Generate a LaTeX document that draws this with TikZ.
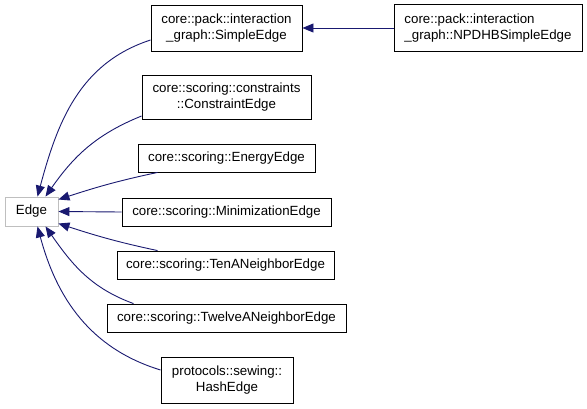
\documentclass[tikz,border=0pt]{standalone}
\usepackage{fontspec}
\setmainfont{Liberation Sans}
\usetikzlibrary{arrows.meta}
\definecolor{edgeblue}{HTML}{191970}
\definecolor{graybox}{HTML}{BFBFBF}
\begin{document}
\begin{tikzpicture}[x=1pt,y=-1pt,
  box/.style={draw=black,line width=0.9pt,inner sep=2pt,align=center,
    font=\fontsize{13.3}{16}\selectfont,minimum height=28pt},
  arr/.style={draw=edgeblue,line width=0.9pt,-{Triangle[length=11pt,width=9pt]}}]
\useasboundingbox (0,0) rectangle (587,408);
\node[box,draw=graybox,minimum width=53pt,minimum height=29pt] (edge) at (31.5,211.5) {Edge};
\node[box,minimum width=151pt,minimum height=46pt] (se) at (226.5,28) {core::pack::interaction\\\_graph::SimpleEdge};
\node[box,minimum width=188pt,minimum height=47pt,align=left] (np) at (488,28) {core::pack::interaction\\\_graph::NPDHBSimpleEdge};
\node[box,minimum width=169pt,minimum height=44pt] (ce) at (226.5,97) {core::scoring::constraints\\::ConstraintEdge};
\node[box,minimum width=177pt] (en) at (226.5,158) {core::scoring::EnergyEdge};
\node[box,minimum width=209pt] (mi) at (226.5,212) {core::scoring::MinimizationEdge};
\node[box,minimum width=217pt] (ten) at (225.5,265) {core::scoring::TenANeighborEdge};
\node[box,minimum width=239pt] (tw) at (226.5,318) {core::scoring::TwelveANeighborEdge};
\node[box,minimum width=132pt,minimum height=46pt] (ha) at (227,380) {protocols::sewing::\\HashEdge};
\draw[arr] (np.west) -- (se.east);
\draw[arr] ([yshift=-12pt]se.west) to[out=198,in=75] ([xshift=6pt]edge.north);
\draw[arr] ([yshift=-19pt]ce.west) to[out=202,in=55] ([xshift=14pt]edge.north);
\draw[arr] ([xshift=-69pt]en.south) to[out=192,in=18] ([yshift=12pt]edge.east);
\draw[arr] (mi.west) -- (edge.east);
\draw[arr] ([xshift=-68pt]ten.north) to[out=168,in=-18] ([yshift=-12pt]edge.east);
\draw[arr] ([xshift=-93pt]tw.north) to[out=160,in=-55] ([xshift=14pt]edge.south);
\draw[arr] ([yshift=10pt]ha.west) to[out=163,in=-75] ([xshift=6pt]edge.south);
\end{tikzpicture}
\end{document}
